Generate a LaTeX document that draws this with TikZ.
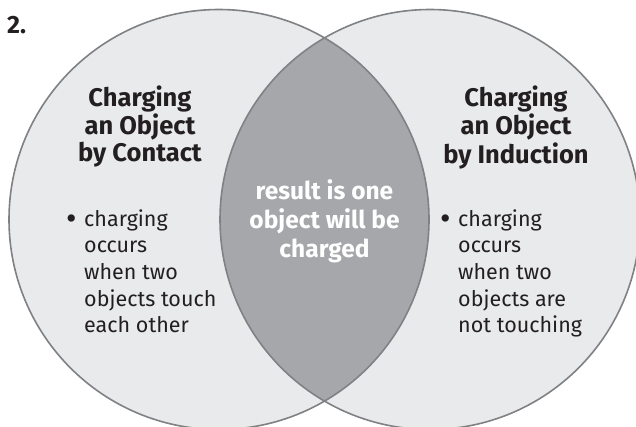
\documentclass[tikz,border=0pt]{standalone}
\usepackage{fontspec}
\setmainfont{Fira Sans}
\begin{document}
\begin{tikzpicture}[x=1pt,y=-1pt,
  venn fill/.style={fill=lightdisc},
  venn edge/.style={draw=ringgray,line width=1.6pt},
  heading/.style={inner sep=0pt,anchor=base,text=inkgray,font=\bfseries\fontsize{25.5}{26.5}\selectfont},
  overlap/.style={inner sep=0pt,anchor=base,text=white,font=\bfseries\fontsize{24.5}{29}\selectfont},
  bulletlist/.style={inner sep=0pt,anchor=base west,text=inkgray,font=\fontsize{21.5}{26.7}\selectfont},
  numlabel/.style={inner sep=0pt,anchor=base west,text=inkgray,font=\bfseries\fontsize{25}{28}\selectfont}]
\definecolor{lightdisc}{HTML}{E9EAEB}
\definecolor{overlapgray}{HTML}{A6A7AA}
\definecolor{ringgray}{HTML}{808184}
\definecolor{inkgray}{HTML}{231F20}
\newcommand{\dotmark}{\makebox[18pt][l]{\raisebox{-3.2pt}{\scalebox{1.5}{\textbullet}}}}
\useasboundingbox (0,0) rectangle (636,426);
\clip (0,0) rectangle (636,426);
% the two discs
\coordinate (cl) at (219,219.5);
\coordinate (cr) at (430,219.5);
\fill[venn fill] (cl) circle[radius=210];
\fill[venn fill] (cr) circle[radius=210];
\begin{scope}
  \clip (cl) circle[radius=210];
  \fill[overlapgray] (cr) circle[radius=210];
\end{scope}
\draw[venn edge] (cl) circle[radius=210];
\draw[venn edge] (cr) circle[radius=210];
% labels
\node[numlabel] (num) at (7,33) {2.};
\node[heading] (tl) at (140,106) {\begin{tabular}[t]{@{}c@{}}Charging\\an Object\\by Contact\end{tabular}};
\node[heading] (tr) at (516,106) {\begin{tabular}[t]{@{}c@{}}Charging\\an Object\\by Induction\end{tabular}};
\node[overlap] (mid) at (324.5,199) {\begin{tabular}[t]{@{}c@{}}result is one\\object will be\\charged\end{tabular}};
\node[bulletlist] (bl) at (66,226) {\begin{tabular}[t]{@{}l@{}l@{}}\dotmark&charging\\&occurs\\&when two\\&objects touch\\&each other\end{tabular}};
\node[bulletlist] (br) at (440,226) {\begin{tabular}[t]{@{}l@{}l@{}}\dotmark&charging\\&occurs\\&when two\\&objects are\\&not touching\end{tabular}};
\end{tikzpicture}
\end{document}
